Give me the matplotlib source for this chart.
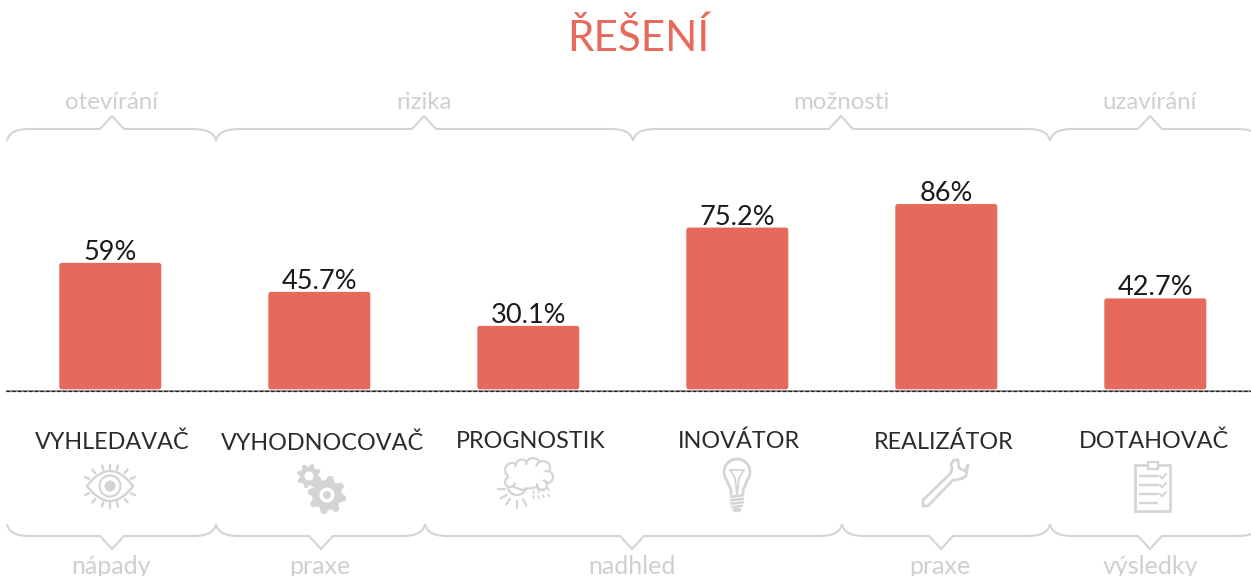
import numpy as np
import matplotlib
matplotlib.use("Agg")
import matplotlib.pyplot as plt
from matplotlib.path import Path
from matplotlib.patches import PathPatch, Circle, Rectangle, Polygon, Arc, Ellipse, FancyBboxPatch

names = ["VYHLEDAVAČ", "VYHODNOCOVAČ", "PROGNOSTIK", "INOVÁTOR", "REALIZÁTOR", "DOTAHOVAČ"]
values = [59, 45.7, 30.1, 75.2, 86, 42.7]
value_labels = ["59%", "45.7%", "30.1%", "75.2%", "86%", "42.7%"]
name_x = [112, 323, 531, 739, 944, 1154]
name_y = [442, 443, 442, 441, 442, 441]

top_groups = ["otevírání", "rizika", "možnosti", "uzavírání"]
top_spans = [(7, 216), (216, 633), (633, 1050), (1050, 1260)]
top_peaks = [112, 424, 841, 1150]
bottom_groups = ["nápady", "praxe", "nadhled", "praxe", "výsledky"]
bottom_spans = [(7, 216), (216, 425), (425, 842), (842, 1050), (1050, 1260)]
bottom_peaks = [112, 321, 632, 941, 1150]

RED = "#E56A5C"
GREY = "#D4D4D4"
TEXT_GREY = "#CFCFCF"
DARK = "#2B2B2B"
W, H = 1251, 576
FONT = "Lato"
PX_X = 209
PX_Y = 2.18

fig = plt.figure(figsize=(W / 100, H / 100), dpi=100, facecolor="white")

# bars axes: one category = 209 px, one percent = 2.18 px, zero at y=391.5
ax = fig.add_axes([0, 0, 1, 1])
ax.set_xlim(-110.3 / PX_X, (W - 110.3) / PX_X)
ax.set_ylim(-(H - 391.5) / PX_Y, 391.5 / PX_Y)
ax.axis("off")
bar_w = 102 / PX_X
round_x = 2.5 / PX_X
for i, v in enumerate(values):
    # rounded corners, stops just above the baseline like the original
    ax.add_patch(FancyBboxPatch((i - bar_w / 2, 1), bar_w, v - 1,
                                boxstyle=f"round,pad=0,rounding_size={round_x}",
                                mutation_aspect=(2.5 / PX_Y) / round_x, fc=RED, ec="none"))
    ax.annotate(value_labels[i], (i, v), xytext=(0, -1.5), textcoords="offset points", ha="center", va="bottom",
                fontsize=19.5, color="#1A1A1A", family=FONT)

# everything else in pixel coordinates
ov = fig.add_axes([0, 0, 1, 1])
ov.set_xlim(0, W)
ov.set_ylim(H, 0)
ov.axis("off")
ov.patch.set_alpha(0)

ov.plot([6, W], [391, 391], color="#9A9A9A", lw=1.4, solid_capstyle="butt")
ov.plot([6, W], [391, 391], color="#222222", lw=0.9, dashes=(3, 1.5))

ov.text(638, 38, "ŘEŠENÍ", color=RED, fontsize=30.4, ha="center", va="center", family=FONT)


def brace(x0, x1, peak, y_end, y_flat, y_peak):
    r = 24
    verts = [(x0, y_end), (x0 + 2, y_flat + (y_end - y_flat) * 0.15), (x0 + r * 0.5, y_flat), (x0 + r, y_flat),
             (peak - 12, y_flat), (peak, y_peak), (peak + 12, y_flat),
             (x1 - r, y_flat), (x1 - r * 0.5, y_flat), (x1 - 2, y_flat + (y_end - y_flat) * 0.15), (x1, y_end)]
    codes = [Path.MOVETO, Path.CURVE4, Path.CURVE4, Path.CURVE4,
             Path.LINETO, Path.LINETO, Path.LINETO,
             Path.LINETO, Path.CURVE4, Path.CURVE4, Path.CURVE4]
    ov.add_patch(PathPatch(Path(verts, codes), fc="none", ec=GREY, lw=1.5, clip_on=True))


for (a, b), p in zip(top_spans, top_peaks):
    brace(a, b, p, 141, 129, 116)
for (a, b), p in zip(bottom_spans, bottom_peaks):
    brace(a, b, p, 524, 536, 549)

for t, p in zip(top_groups, [112, 424, 841, 1150]):
    ov.text(p, 102.5, t, color=TEXT_GREY, fontsize=17.3, ha="center", va="center", family=FONT)
for t, p in zip(bottom_groups, [111, 320, 632, 940, 1150]):
    ov.text(p, 567, t, color=TEXT_GREY, fontsize=18, ha="center", va="center", family=FONT)

for n, x, y in zip(names, name_x, name_y):
    ov.text(x, y, n, color=DARK, fontsize=16.8, ha="center", va="center", family=FONT)


def line(xs, ys, lw=1.5, color=GREY):
    ov.plot(xs, ys, color=color, lw=lw, solid_capstyle="round", solid_joinstyle="round")


# eye
cx, cy = 110, 486
t = np.linspace(-1, 1, 40)
line(cx + 23 * t, cy - 15 * (1 - t ** 2), 1.7)
line(cx + 23 * t, cy + 15 * (1 - t ** 2), 1.7)
ov.add_patch(Circle((cx, cy), 10.5, fc="none", ec=GREY, lw=1.5))
ov.add_patch(Circle((cx, cy), 5.5, fc=GREY, ec="none"))
for ang in [-155, -130, -107, -90, -73, -50, -25, 25, 50, 73, 90, 107, 130, 155]:
    a = np.radians(ang)
    rx0, ry0, rx1, ry1 = 23, 17, 27.5, 21.5
    line([cx + rx0 * np.cos(a), cx + rx1 * np.cos(a)], [cy + ry0 * np.sin(a), cy + ry1 * np.sin(a)], 1.7)


# gears
def gear(cx, cy, r_out, r_in, r_hole, teeth, rot=0):
    n = teeth * 4
    ang = rot + np.arange(n) * 2 * np.pi / n
    rad = np.where(np.arange(n) % 4 < 2, r_out, r_in)
    ov.add_patch(Polygon(np.c_[cx + rad * np.cos(ang), cy + rad * np.sin(ang)], fc=GREY, ec=GREY, lw=0.5))
    ov.add_patch(Circle((cx, cy), r_hole, fc="white", ec="none"))


gear(309, 476, 12, 9, 4.5, 8, 0.2)
gear(327, 495, 19, 14.5, 4, 8, 0.1)
ov.add_patch(Circle((327, 495), 7.5, fc="white", ec="none"))
ov.add_patch(Circle((327, 495), 4, fc=GREY, ec="none"))

# cloud with sun and rain
ov.add_patch(Arc((517, 487), 18, 16, theta1=0, theta2=180, ec=GREY, lw=1.6))
for px, py, r in [(510, 482, 5), (512, 470, 7), (522, 466, 6.5), (533, 465, 7), (543, 468, 7), (547, 477, 6), (542, 485, 5)]:
    ov.add_patch(Circle((px, py), r, fc="white", ec=GREY, lw=1.6))
ov.add_patch(Ellipse((527, 475), 37, 20, fc="white", ec="none"))
line([514, 522, 531, 538], [487, 490, 488, 487], 1.6)
for ang in [180, 150, 125, 90, 60]:
    a = np.radians(ang)
    line([517 + 12 * np.cos(a), 517 + 19 * np.cos(a)], [489 + 12 * np.sin(a), 489 + 19 * np.sin(a)], 1.6)
for x, y in [(533, 491), (538, 490), (543, 489), (548, 488), (533, 496), (538, 496), (543, 495), (548, 494)]:
    line([x, x + 1], [y, y + 2.5], 1.2)

# bulb
t = np.radians(np.linspace(140, 400, 40))
line(737 + 13 * np.cos(t), 472 + 13 * np.sin(t), 2)
line([727, 731, 731], [481, 490, 494], 2)
line([747, 743, 743], [481, 490, 494], 2)
line([730, 735, 737, 739, 744, 730], [470, 478, 494, 478, 470, 470], 1.3)
for y, half in [(496, 6), (499.5, 6), (503, 6), (506.5, 5)]:
    line([737 - half, 737 + half], [y + 0.7, y - 0.7], 1.8)
ov.add_patch(Ellipse((737, 510), 9, 4.5, fc=GREY, ec="none"))

# wrench
wx = [923, 951, 952, 951, 954, 958, 959, 965, 968, 966, 961, 956, 953, 928, 923, 923]
wy = [500, 473, 468, 464, 460, 460, 468, 471, 465, 476, 479, 480, 480, 506, 506, 500]
ov.add_patch(Polygon(np.c_[wx, wy], closed=True, fc="none", ec=GREY, lw=1.9, joinstyle="round"))

# clipboard with ticks
ov.add_patch(Rectangle((1135, 465), 35, 46, fc="none", ec=GREY, lw=1.9))
ov.add_patch(Rectangle((1148, 462), 10, 7, fc="white", ec=GREY, lw=1.6))
for y, x1 in [(476, 1158), (485, 1158), (494, 1158), (503, 1157)]:
    line([1140, x1], [y, y], 1.7)
for y in [476, 485, 494]:
    line([1160, 1162, 1166], [y, y + 2.5, y - 2], 1.4)

fig.savefig("out.png", dpi=100)
